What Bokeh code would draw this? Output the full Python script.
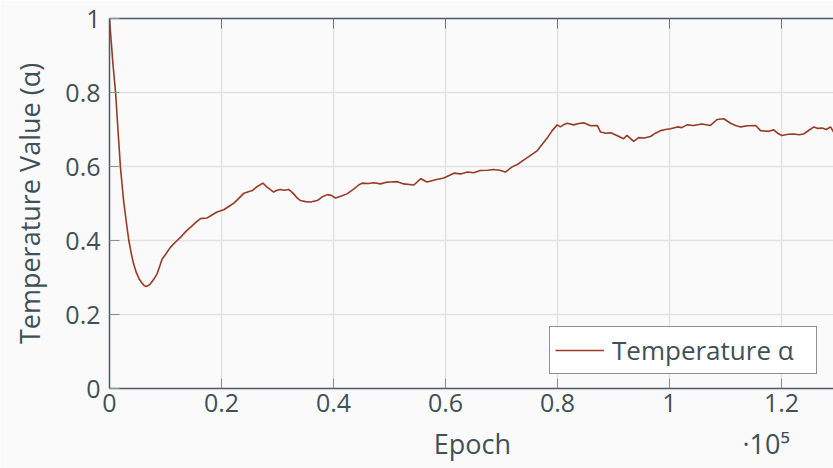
from bokeh.plotting import figure
from bokeh.models import FixedTicker, LinearAxis, Range1d, Legend, LegendItem
from bokeh.embed import file_html
from bokeh.resources import INLINE

# Epoch values in units of 1e5
epoch_e5 = [0, 0.003, 0.006, 0.011, 0.0155, 0.0196, 0.025, 0.03, 0.0345, 0.039, 0.043, 0.048,
            0.053, 0.058, 0.062, 0.066, 0.07, 0.073, 0.079, 0.085, 0.09, 0.094, 0.1, 0.109,
            0.118, 0.127, 0.136, 0.145, 0.154, 0.1625, 0.1745, 0.183, 0.192, 0.204, 0.213,
            0.222, 0.231, 0.240, 0.248, 0.255, 0.264, 0.274, 0.2815, 0.293, 0.299, 0.305,
            0.312, 0.320, 0.329, 0.335, 0.341, 0.35, 0.359, 0.371, 0.38, 0.389, 0.396, 0.4036,
            0.414, 0.424, 0.436, 0.445, 0.451, 0.462, 0.472, 0.484, 0.493, 0.502, 0.514,
            0.5255, 0.5435, 0.556, 0.567, 0.582, 0.597, 0.615, 0.627, 0.639, 0.650, 0.6625,
            0.675, 0.686, 0.697, 0.707, 0.719, 0.730, 0.740, 0.752, 0.764, 0.776, 0.783,
            0.7905, 0.7995, 0.805, 0.811, 0.817, 0.829, 0.838, 0.847, 0.859, 0.871, 0.877,
            0.886, 0.895, 0.906, 0.918, 0.924, 0.930, 0.936, 0.945, 0.955, 0.966, 0.975,
            0.984, 0.993, 1.002, 1.014, 1.022, 1.031, 1.043, 1.050, 1.058, 1.073, 1.085,
            1.097, 1.109, 1.118, 1.127, 1.140, 1.154, 1.1625, 1.177, 1.186, 1.193, 1.201,
            1.212, 1.222, 1.231, 1.240, 1.249, 1.258, 1.265, 1.2725, 1.280, 1.2875, 1.293]
temperature = [1.0, 0.94, 0.88, 0.797, 0.69, 0.597, 0.51, 0.45, 0.40, 0.364, 0.337, 0.313,
               0.296, 0.285, 0.278, 0.276, 0.279, 0.283, 0.295, 0.31, 0.332, 0.35, 0.362, 0.382,
               0.396, 0.409, 0.424, 0.436, 0.449, 0.459, 0.461, 0.469, 0.477, 0.483, 0.492,
               0.501, 0.514, 0.528, 0.532, 0.535, 0.546, 0.555, 0.544, 0.531, 0.536, 0.538,
               0.536, 0.538, 0.526, 0.515, 0.508, 0.505, 0.504, 0.508, 0.518, 0.524, 0.522,
               0.515, 0.52, 0.526, 0.539, 0.55, 0.555, 0.554, 0.556, 0.553, 0.557, 0.558,
               0.559, 0.553, 0.55, 0.567, 0.558, 0.564, 0.569, 0.582, 0.580, 0.585, 0.583,
               0.589, 0.590, 0.592, 0.590, 0.585, 0.599, 0.607, 0.618, 0.630, 0.643, 0.666,
               0.680, 0.697, 0.7125, 0.707, 0.713, 0.717, 0.7125, 0.716, 0.718, 0.710, 0.711,
               0.693, 0.690, 0.691, 0.684, 0.675, 0.684, 0.676, 0.668, 0.678, 0.677, 0.681,
               0.690, 0.697, 0.700, 0.702, 0.707, 0.705, 0.7125, 0.711, 0.713, 0.715, 0.711,
               0.727, 0.729, 0.717, 0.711, 0.707, 0.710, 0.711, 0.697, 0.695, 0.699, 0.690,
               0.684, 0.687, 0.688, 0.686, 0.688, 0.698, 0.707, 0.703, 0.704, 0.700, 0.707,
               0.693]

x_ticks = [0, 20000, 40000, 60000, 80000, 100000, 120000]
x_tick_labels = ["0", "0.2", "0.4", "0.6", "0.8", "1", "1.2"]
y_ticks = [0, 0.2, 0.4, 0.6, 0.8, 1.0]
y_tick_labels = ["0", "0.2", "0.4", "0.6", "0.8", "1"]
x_title = "Epoch"
x_scale_note = "·10⁵"
y_title = "Temperature Value (α)"
series_name = "Temperature α"

epochs = [v * 1e5 for v in epoch_e5]

FONT = "Open Sans"
TXT = "#3f5157"
BG = "#fafafa"
LINE = "#983a26"
NB = "\u00a0"

p = figure(width=833, height=468, output_backend="svg", toolbar_location=None,
           x_range=Range1d(0, 129286), y_range=Range1d(0, 1),
           min_border_left=109, min_border_top=18, min_border_right=0, min_border_bottom=80,
           background_fill_color=BG, border_fill_color=BG, outline_line_color=None)

r = p.line(epochs, temperature, line_color=LINE, line_width=1.6)

for ax, ticks, labels in [(p.xaxis[0], x_ticks, x_tick_labels), (p.yaxis[0], y_ticks, y_tick_labels)]:
    ax.ticker = FixedTicker(ticks=ticks)
    ax.major_label_overrides = dict(zip(ticks, labels))
    ax.major_tick_in = 10
    ax.major_tick_out = 0
    ax.minor_tick_line_color = None
    ax.major_tick_line_color = "#8a9396"
    ax.axis_line_color = "#4a5a60"
    ax.axis_line_width = 1.5
    ax.major_label_text_font = FONT
    ax.major_label_text_font_size = "25px"
    ax.major_label_text_color = TXT
    ax.axis_label_text_font = FONT
    ax.axis_label_text_font_size = "27px"
    ax.axis_label_text_font_style = "normal"
    ax.axis_label_text_color = TXT

# x title centred on the frame, scale note on the same line towards the right
p.xaxis.axis_label = NB * 40 + x_title + NB * 33 + x_scale_note
p.yaxis.axis_label = y_title
p.xaxis.major_label_standoff = 5
p.xaxis.axis_label_standoff = 10
p.yaxis.major_label_standoff = 9
p.yaxis.axis_label_standoff = 14

top = LinearAxis(ticker=FixedTicker(ticks=x_ticks), major_label_text_font_size="0px",
                 major_label_text_alpha=0, major_tick_in=10, major_tick_out=0,
                 minor_tick_line_color=None, major_tick_line_color="#6c777b",
                 axis_line_color="#4a5a60", axis_line_width=1.5, major_label_standoff=0)
p.add_layout(top, "above")

p.xgrid.ticker = FixedTicker(ticks=x_ticks)
p.ygrid.ticker = FixedTicker(ticks=y_ticks)
p.grid.grid_line_color = "#e2e2e2"
p.grid.grid_line_width = 1.5

legend = Legend(items=[LegendItem(label=series_name, renderers=[r])],
                location=(440, 14), label_text_font=FONT, label_text_font_size="26px",
                label_text_color=TXT, label_text_line_height=0.9,
                border_line_color="#222222", border_line_width=1,
                background_fill_color="#ffffff", background_fill_alpha=1,
                glyph_width=49, label_standoff=8, label_width=199, padding=5, margin=0,
                spacing=0)
p.add_layout(legend)

open("out.html", "w").write(file_html(p, INLINE))
